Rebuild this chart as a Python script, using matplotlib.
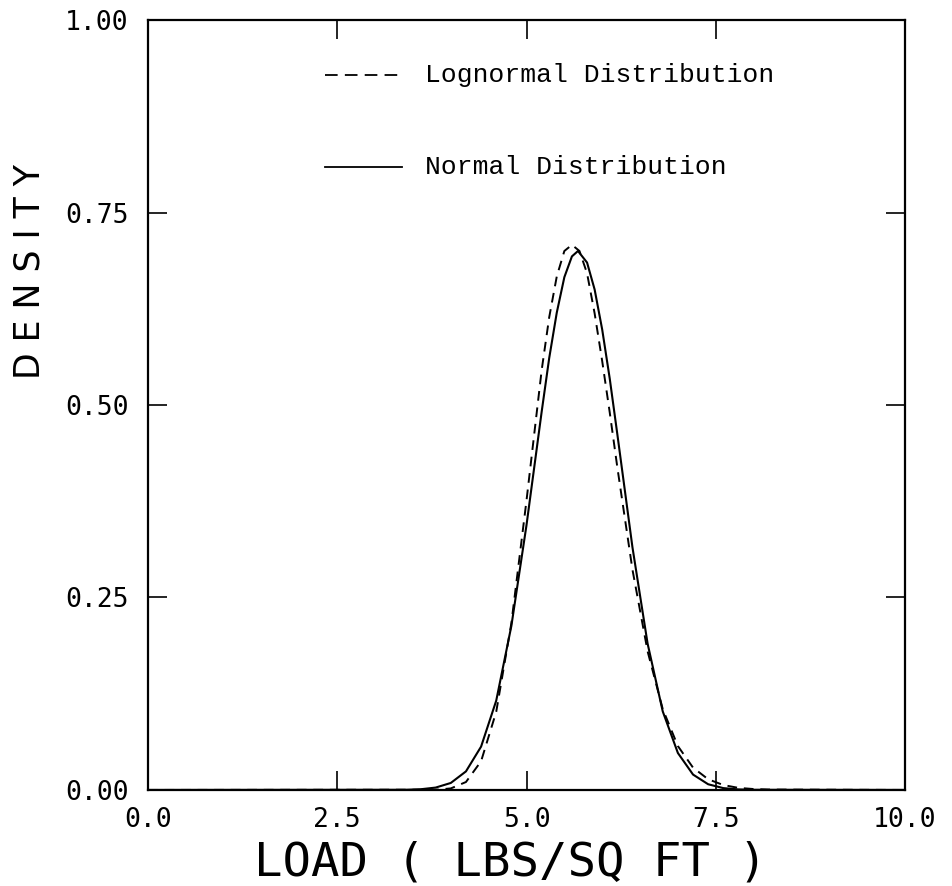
import matplotlib
matplotlib.use("Agg")
import matplotlib.pyplot as plt

# values
load_normal = [0.0, 3.4, 3.6, 3.8, 4.0, 4.2, 4.4, 4.6, 4.8, 5.0, 5.2, 5.3, 5.4, 5.5, 5.6,
               5.68, 5.8, 5.9, 6.0, 6.1, 6.2, 6.4, 6.6, 6.8, 7.0, 7.2, 7.4, 7.6, 7.8, 8.0, 10.0]
dens_normal = [0.0, 0.0002, 0.0009, 0.0031, 0.0091, 0.0241, 0.0563, 0.116, 0.213, 0.344, 0.491, 0.561, 0.620, 0.666, 0.693,
               0.700, 0.685, 0.650, 0.598, 0.534, 0.462, 0.315, 0.190, 0.102, 0.048, 0.020, 0.0074, 0.0024, 0.0007, 0.0002, 0.0]

load_lognormal = [0.0, 3.8, 4.0, 4.2, 4.4, 4.6, 4.8, 5.0, 5.2, 5.3, 5.4, 5.5, 5.6,
                  5.7, 5.8, 5.9, 6.0, 6.1, 6.2, 6.4, 6.6, 6.8, 7.0, 7.2, 7.4, 7.6, 7.8, 8.0, 8.2, 10.0]
dens_lognormal = [0.0, 0.0003, 0.0020, 0.0103, 0.0373, 0.1015, 0.2166, 0.376, 0.545, 0.614, 0.667, 0.700, 0.708,
                  0.700, 0.671, 0.619, 0.557, 0.490, 0.419, 0.286, 0.180, 0.105, 0.057, 0.029, 0.0139, 0.0064, 0.0027, 0.0012, 0.0005, 0.0]

xticks = [0.0, 2.5, 5.0, 7.5, 10.0]
xtick_labels = ["0.0", "2.5", "5.0", "7.5", "10.0"]
yticks = [0.0, 0.25, 0.5, 0.75, 1.0]
ytick_labels = ["0.00", "0.25", "0.50", "0.75", "1.00"]

mono = "DejaVu Sans Mono"

fig = plt.figure(figsize=(9.52, 8.86), dpi=100)
ax = fig.add_axes([0.1555, 0.1084, 0.9506 - 0.1555, 0.9774 - 0.1084])

ax.plot(load_lognormal, dens_lognormal, color="black", lw=1.4, linestyle=(0, (5, 3.5)))
ax.plot(load_normal, dens_normal, color="black", lw=1.5)

ax.set_xlim(0, 10)
ax.set_ylim(0, 1)
ax.set_xticks(xticks)
ax.set_xticklabels(xtick_labels, family=mono, fontsize=19)
ax.set_yticks(yticks)
ax.set_yticklabels(ytick_labels, family=mono, fontsize=19)
ax.tick_params(direction="in", length=14, width=1.2, top=True, right=True, pad=12)
ax.tick_params(axis="y", pad=14)
for s in ax.spines.values():
    s.set_linewidth(1.6)

# hand-drawn style legend
ax.plot([2.34, 3.36], [0.929, 0.929], color="black", lw=1.3, linestyle=(0, (7, 4)))
ax.text(3.66, 0.929, "Lognormal Distribution", family="Liberation Mono", fontsize=19, va="center")
ax.plot([2.34, 3.36], [0.809, 0.809], color="black", lw=1.3)
ax.text(3.66, 0.809, "Normal Distribution", family="Liberation Mono", fontsize=19, va="center")

fig.text(0.536, 0.026, "LOAD ( LBS/SQ FT )", family=mono, fontsize=34, ha="center", va="center")
fig.text(0.031, 0.694, "D E N S I T Y", family="DejaVu Sans", fontsize=25, rotation=90,
         ha="center", va="center")

fig.savefig("out.png", dpi=100)
